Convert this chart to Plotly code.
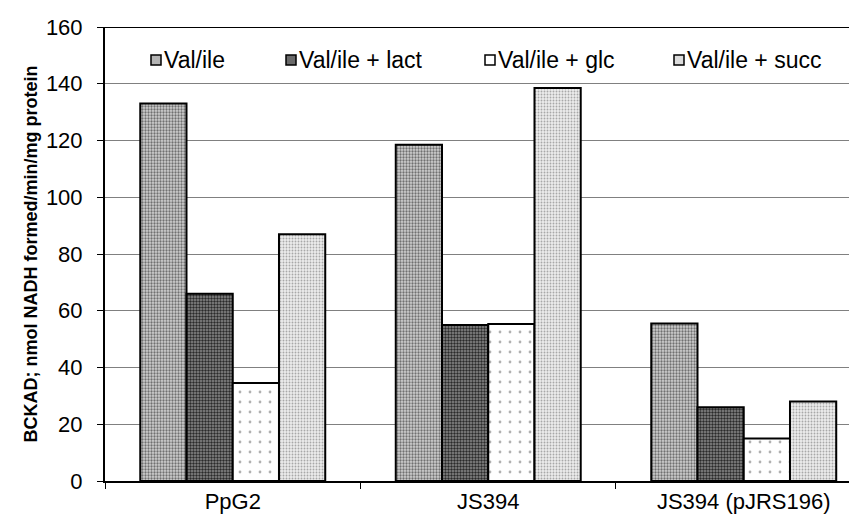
import plotly.graph_objects as go

categories = ["PpG2", "JS394", "JS394 (pJRS196)"]
series_names = ["Val/ile", "Val/ile + lact", "Val/ile + glc", "Val/ile + succ"]
val_ile = [133, 118.5, 55.5]
val_ile_lact = [66, 55, 26]
val_ile_glc = [34.5, 55.3, 15]
val_ile_succ = [87, 138.5, 28]
y_ticks = [0, 20, 40, 60, 80, 100, 120, 140, 160]

series_values = [val_ile, val_ile_lact, val_ile_glc, val_ile_succ]
styles = [
    dict(bgcolor="#d0d0d0", fgcolor="#707070", size=3, solidity=0.45, legend="#b4b4b4"),
    dict(bgcolor="#8c8c8c", fgcolor="#2a2a2a", size=3, solidity=0.5, legend="#6a6a6a"),
    dict(bgcolor="#ffffff", fgcolor="#b0b0b0", size=10, solidity=0.06, legend="#ffffff"),
    dict(bgcolor="#ececec", fgcolor="#a8a8a8", size=3, solidity=0.3, legend="#dcdcdc"),
]

# plot area geometry (layout only)
ML, MT, MB, W, H = 97, 19, 43, 857, 516
PW, PH = W - ML, H - MT - MB
legend_left_px = [143, 278, 477, 666]
legend_center_y_px = 52

fig = go.Figure()
for name, vals, st in zip(series_names, series_values, styles):
    fig.add_trace(go.Bar(
        x=categories, y=vals, name=name, showlegend=False,
        marker=dict(color=st["bgcolor"],
                    line=dict(color="black", width=2),
                    pattern=dict(shape=".", fgcolor=st["fgcolor"], bgcolor=st["bgcolor"],
                                 size=st["size"], solidity=st["solidity"], fillmode="replace")),
    ))

# manual legend
for name, st, lx in zip(series_names, styles, legend_left_px):
    x0 = (lx - ML) / PW
    x1 = (lx + 10 - ML) / PW
    yc = (H - MB - legend_center_y_px) / PH
    half = 5 / PH
    fig.add_shape(type="rect", xref="paper", yref="paper", x0=x0, x1=x1,
                  y0=yc - half, y1=yc + half, fillcolor=st["legend"],
                  line=dict(color="black", width=1.5))
    fig.add_annotation(xref="paper", yref="paper", x=(lx + 11 - ML) / PW, y=yc,
                       text=name, showarrow=False, xanchor="left", yanchor="middle",
                       font=dict(size=23), xshift=0)

font_family = "Liberation Sans, Arial, sans-serif"
fig.update_layout(
    width=W, height=H,
    margin=dict(l=ML, r=0, t=MT, b=MB),
    paper_bgcolor="white", plot_bgcolor="white",
    barmode="group", bargap=0.276, bargroupgap=0,
    font=dict(family=font_family, size=22, color="black"),
    xaxis=dict(range=[-0.5, 2.4746], showline=True, linecolor="black", linewidth=2,
               ticks="outside", tickson="boundaries", ticklen=6, tickcolor="black",
               showgrid=False, tickfont=dict(size=22), automargin=False),
    yaxis=dict(range=[0, 160], tickvals=y_ticks, showline=True, linecolor="black", linewidth=2,
               ticks="outside", ticklen=6, tickcolor="black", ticklabelstandoff=10,
               showgrid=True, gridcolor="#808080", gridwidth=1, zeroline=False,
               tickfont=dict(size=22), automargin=False,
               title=dict(text="<b>BCKAD; nmol NADH formed/min/mg protein</b>",
                          font=dict(size=18), standoff=4)),
)
fig.add_shape(type="line", xref="paper", yref="y", x0=0, x1=1, y0=160, y1=160,
              line=dict(color="black", width=2))
fig.write_html("out.html")
